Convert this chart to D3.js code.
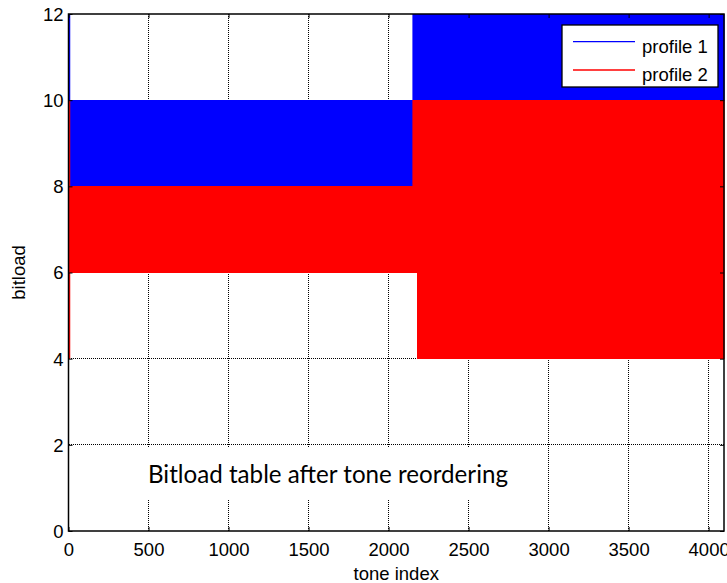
<!DOCTYPE html>
<html>
<head>
<meta charset="utf-8">
<script src="https://cdn.jsdelivr.net/npm/d3@7"></script>
<style>
  html, body { margin: 0; padding: 0; background: #fff; }
  svg { display: block; }
</style>
</head>
<body>
<svg id="chart" width="727" height="583"></svg>
<script>
// ---- data ----
const xTicks = [0, 500, 1000, 1500, 2000, 2500, 3000, 3500, 4000];
const yTicks = [0, 2, 4, 6, 8, 10, 12];
const seriesNames = ["profile 1", "profile 2"];
const seriesColors = ["#0000ff", "#ff0000"];

// profile 1: bitload bands (tone range, min/max bitload swept by the trace)
const p1Start = [0, 2151];
const p1End   = [2151, 4096];
const p1Low   = [8, 10];
const p1High  = [10, 12];
const p1Edge  = [10, 12];   // spike at tone 0

// profile 2
const p2Start = [0, 2151, 2180];
const p2End   = [2151, 2180, 4096];
const p2Low   = [6, 6, 4];
const p2High  = [8, 10, 10];
const p2Edge  = [4, 10];    // spike at tone 0

const annotation = "Bitload table after tone reordering";

// ---- chart ----
const svg = d3.select("#chart");
const x = d3.scaleLinear().domain([0, 4096]).range([68.5, 724]);
const y = d3.scaleLinear().domain([0, 12]).range([531, 14]);
const fontA = "'Liberation Sans', Arial, sans-serif";

// grid
const grid = svg.append("g");
grid.selectAll("line.gx").data(xTicks.filter(d => d > 0)).join("line")
  .attr("x1", d => x(d)).attr("x2", d => x(d))
  .attr("y1", y(0)).attr("y2", y(12))
  .attr("stroke", "#000").attr("stroke-width", 1)
  .attr("stroke-dasharray", "1,1").attr("shape-rendering", "crispEdges");
grid.selectAll("line.gy").data(yTicks.filter(d => d > 0 && d < 12)).join("line")
  .attr("x1", x(0)).attr("x2", x(4096))
  .attr("y1", d => y(d)).attr("y2", d => y(d))
  .attr("stroke", "#000").attr("stroke-width", 1)
  .attr("stroke-dasharray", "1,1").attr("shape-rendering", "crispEdges");

// bands
function drawBands(starts, ends, lows, highs, color) {
  const data = starts.map((s, i) => ({ s, e: ends[i], lo: lows[i], hi: highs[i] }));
  svg.append("g").selectAll("rect").data(data).join("rect")
    .attr("x", d => x(d.s)).attr("width", d => x(d.e) - x(d.s))
    .attr("y", d => y(d.hi)).attr("height", d => y(d.lo) - y(d.hi))
    .attr("fill", color).attr("stroke", color).attr("stroke-width", 0.6)
    .attr("shape-rendering", "crispEdges");
}
function drawEdge(edge, color) {
  svg.append("line")
    .attr("x1", x(0) + 1).attr("x2", x(0) + 1)
    .attr("y1", y(edge[0])).attr("y2", y(edge[1]))
    .attr("stroke", color).attr("stroke-width", 1.5);
}
drawBands(p1Start, p1End, p1Low, p1High, seriesColors[0]);
drawEdge(p1Edge, seriesColors[0]);
drawBands(p2Start, p2End, p2Low, p2High, seriesColors[1]);
drawEdge(p2Edge, seriesColors[1]);

// annotation with white box
svg.append("rect").attr("x", 140).attr("y", 447).attr("width", 380).attr("height", 53)
  .attr("fill", "#fff");
svg.append("text").attr("x", 148).attr("y", 483)
  .attr("font-family", "Lato, 'Open Sans', sans-serif").attr("font-size", 25)
  .attr("textLength", 360).attr("lengthAdjust", "spacingAndGlyphs")
  .attr("fill", "#000").text(annotation);

// axes box
const axisG = svg.append("g");
axisG.append("g").attr("transform", `translate(0,${y(0)})`)
  .call(d3.axisBottom(x).tickValues(xTicks).tickSize(-4).tickFormat(d3.format("d")))
  .call(g => g.select(".domain").remove())
  .call(g => g.selectAll("text").attr("dy", null).attr("y", 25)
    .attr("font-family", fontA).attr("font-size", 18.5).attr("fill", "#000"));
axisG.append("g").attr("transform", `translate(0,${y(12)})`)
  .call(d3.axisTop(x).tickValues(xTicks).tickSize(-4).tickFormat(""))
  .call(g => g.select(".domain").remove());
axisG.append("g").attr("transform", `translate(${x(0)},0)`)
  .call(d3.axisLeft(y).tickValues(yTicks).tickSize(-4).tickFormat(d3.format("d")))
  .call(g => g.select(".domain").remove())
  .call(g => g.selectAll("text").attr("x", -5).attr("dy", "0.35em")
    .attr("font-family", fontA).attr("font-size", 18.5).attr("fill", "#000"));
axisG.append("g").attr("transform", `translate(${x(4096)},0)`)
  .call(d3.axisRight(y).tickValues(yTicks).tickSize(-4).tickFormat(""))
  .call(g => g.select(".domain").remove());
axisG.selectAll(".tick line").attr("stroke", "#000");

svg.append("rect").attr("x", x(0)).attr("y", y(12))
  .attr("width", x(4096) - x(0)).attr("height", y(0) - y(12))
  .attr("fill", "none").attr("stroke", "#000").attr("stroke-width", 1.5);

// axis labels
svg.append("text").attr("x", (x(0) + x(4096)) / 2).attr("y", 580)
  .attr("text-anchor", "middle").attr("font-family", fontA).attr("font-size", 18.5)
  .text("tone index");
svg.append("text").attr("transform", `translate(25,${(y(0) + y(12)) / 2}) rotate(-90)`)
  .attr("text-anchor", "middle").attr("font-family", fontA).attr("font-size", 18.5)
  .text("bitload");

// legend
const lg = svg.append("g");
lg.append("rect").attr("x", 562).attr("y", 25).attr("width", 156).attr("height", 62)
  .attr("fill", "#fff").attr("stroke", "#000").attr("stroke-width", 1.3);
const legY = [41.7, 70];
seriesNames.forEach((name, i) => {
  lg.append("line").attr("x1", 573).attr("x2", 635)
    .attr("y1", legY[i]).attr("y2", legY[i])
    .attr("stroke", seriesColors[i]).attr("stroke-width", 1.3);
  lg.append("text").attr("x", 642).attr("y", legY[i] + 11)
    .attr("font-family", fontA).attr("font-size", 18.5).attr("fill", "#000")
    .text(name);
});
</script>
</body>
</html>
